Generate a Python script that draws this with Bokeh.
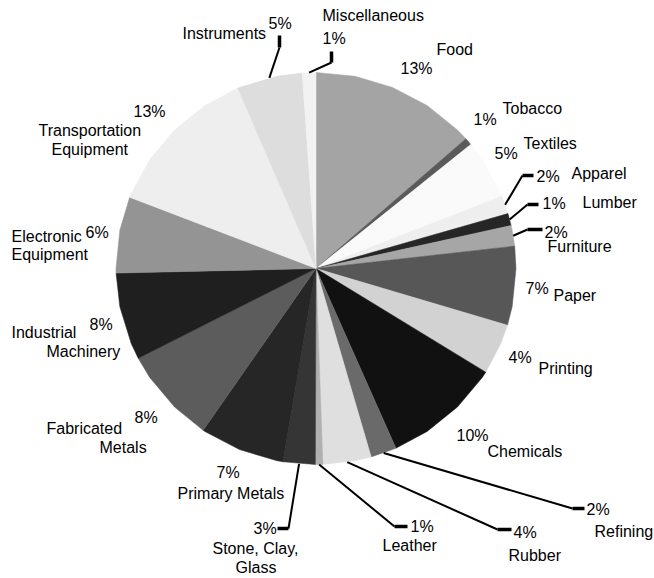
import math
from bokeh.plotting import figure
from bokeh.models import Range1d, ColumnDataSource
from bokeh.core.properties import value
from bokeh.embed import file_html
from bokeh.resources import INLINE

# ---- data (clockwise from 12 o'clock) ----
categories = ["Food", "Tobacco", "Textiles", "Apparel", "Lumber", "Furniture",
              "Paper", "Printing", "Chemicals", "Refining", "Rubber", "Leather",
              "Stone, Clay, Glass", "Primary Metals", "Fabricated Metals",
              "Industrial Machinery", "Electronic Equipment",
              "Transportation Equipment", "Instruments", "Miscellaneous"]
shares = [13.5, 0.6, 4.9, 1.5, 1.0, 1.7, 6.5, 4.2, 9.6, 2.1, 3.9, 0.6,
          2.6, 6.9, 7.9, 7.2, 6.3, 12.7, 5.3, 1.1]
pct_labels = ["13%", "1%", "5%", "2%", "1%", "2%", "7%", "4%", "10%", "2%",
              "4%", "1%", "3%", "7%", "8%", "8%", "6%", "13%", "5%", "1%"]

# ---- style ----
colors = ["#a4a4a4", "#5a5a5a", "#fafafa", "#eeeeee", "#262626", "#a6a6a6",
          "#575757", "#d2d2d2", "#111111", "#6a6a6a", "#dfdfdf", "#b0b0b0",
          "#353535", "#262626", "#5c5c5c", "#1f1f1f", "#949494", "#eeeeee",
          "#dddddd", "#f2f2f2"]

# ---- layout (pixel space, y down) ----
CX, CY, RX, RY = 315.5, 268.0, 200.0, 196.0
# label layout: percentage (x, y) and name lines [(text, x, y), ...]
pct_pos = {
    "Food": (400, 68), "Tobacco": (473, 119), "Textiles": (494, 153),
    "Apparel": (536, 176), "Lumber": (542, 203), "Furniture": (544, 232),
    "Paper": (525, 288), "Printing": (508, 357), "Chemicals": (456, 435),
    "Refining": (586, 509), "Rubber": (513, 532), "Leather": (410, 526),
    "Stone, Clay, Glass": (253, 528), "Primary Metals": (216, 472),
    "Fabricated Metals": (134, 417), "Industrial Machinery": (89, 324),
    "Electronic Equipment": (85, 232), "Transportation Equipment": (133, 111),
    "Instruments": (268, 23), "Miscellaneous": (322, 38),
}
name_pos = {
    "Food": [("Food", 436, 49)],
    "Tobacco": [("Tobacco", 502, 108)],
    "Textiles": [("Textiles", 523, 143)],
    "Apparel": [("Apparel", 571, 173)],
    "Lumber": [("Lumber", 582, 202)],
    "Furniture": [("Furniture", 547, 246)],
    "Paper": [("Paper", 553, 295)],
    "Printing": [("Printing", 538, 368)],
    "Chemicals": [("Chemicals", 487, 451)],
    "Refining": [("Refining", 594, 531)],
    "Rubber": [("Rubber", 508, 555)],
    "Leather": [("Leather", 382, 545)],
    "Stone, Clay, Glass": [("Stone, Clay,", 212, 548), ("Glass", 235, 567)],
    "Primary Metals": [("Primary Metals", 177, 493)],
    "Fabricated Metals": [("Fabricated", 46, 428), ("Metals", 99, 447)],
    "Industrial Machinery": [("Industrial", 11, 332), ("Machinery", 46, 351)],
    "Electronic Equipment": [("Electronic", 11, 236), ("Equipment", 11, 254)],
    "Transportation Equipment": [("Transportation", 38, 130), ("Equipment", 51, 149)],
    "Instruments": [("Instruments", 182, 33)],
    "Miscellaneous": [("Miscellaneous", 322, 15)],
}
# leader lines: elbow and end points
leaders = {
    "Miscellaneous": ((331, 62), (331, 51)),
    "Instruments": ((279, 47), (279, 35)),
    "Apparel": ((522, 175), (533, 175)),
    "Lumber": ((527, 204), (538, 204)),
    "Furniture": ((527, 229), (542, 229)),
    "Refining": ((572, 508), (584, 508)),
    "Rubber": ((497, 529), (511, 529)),
    "Leather": ((394, 526), (407, 526)),
    "Stone, Clay, Glass": ((288, 528), (277, 528)),
}

p = figure(width=654, height=578, output_backend="svg", toolbar_location=None,
           x_range=Range1d(0, 654), y_range=Range1d(578, 0), min_border=0)
p.axis.visible = False
p.grid.visible = False
p.outline_line_color = None
p.background_fill_color = "white"
p.border_fill_color = "white"


def edge(theta_deg):
    t = math.radians(theta_deg)
    return CX + RX * math.sin(t), CY - RY * math.cos(t)


total = sum(shares)
step = 11.25
xs, ys, mids = [], [], []
cum = 0.0
for s in shares:
    a0 = cum / total * 360.0
    cum += s
    a1 = cum / total * 360.0
    angs = [a0]
    k = math.floor(a0 / step) + 1
    while k * step < a1:
        angs.append(k * step)
        k += 1
    angs.append(a1)
    px = [CX] + [edge(a)[0] for a in angs]
    py = [CY] + [edge(a)[1] for a in angs]
    xs.append(px)
    ys.append(py)
    mids.append((a0 + a1) / 2)

p.patches(xs="xs", ys="ys", fill_color="color", line_color="color", line_width=0.5,
          source=ColumnDataSource(dict(xs=xs, ys=ys, color=colors)))

# leader lines
for cat, (elbow, end) in leaders.items():
    i = categories.index(cat)
    sx, sy = edge(mids[i])
    p.line([sx, elbow[0]], [sy, elbow[1]], line_color="black", line_width=2)
    p.line([elbow[0], end[0]], [elbow[1], end[1]], line_color="black", line_width=3.5)

# texts
tx, ty, tt = [], [], []
for i, cat in enumerate(categories):
    x0, y0 = pct_pos[cat]
    tx.append(x0); ty.append(y0); tt.append(pct_labels[i])
    for (t, x1, y1) in name_pos[cat]:
        tx.append(x1); ty.append(y1); tt.append(t)

p.text(x="x", y="y", text="t", source=ColumnDataSource(dict(x=tx, y=ty, t=tt)),
       text_font=value("Liberation Sans"), text_font_size="16px",
       text_color="black", text_align="left", text_baseline="middle")

open("out.html", "w").write(file_html(p, INLINE))
